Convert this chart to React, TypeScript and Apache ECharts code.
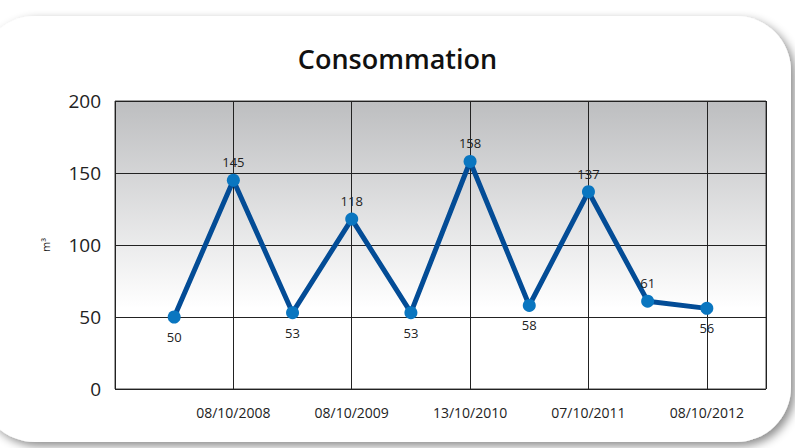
import React, { useEffect, useRef } from "react";
import * as echarts from "echarts";

const title = "Consommation";
const unit = "m³";
const xPositions = [1, 2, 3, 4, 5, 6, 7, 8, 9, 10];
const values = [50, 145, 53, 118, 53, 158, 58, 137, 61, 56];
const labelSide = ["bottom", "top", "bottom", "top", "bottom", "top", "bottom", "top", "top", "bottom"];
const xTickValues = [2, 4, 6, 8, 10];
const xTickLabels = ["08/10/2008", "08/10/2009", "13/10/2010", "07/10/2011", "08/10/2012"];
const yTicks = [0, 50, 100, 150, 200];

export default function App() {
  const ref = useRef<HTMLDivElement>(null);
  useEffect(() => {
    if (!ref.current) return;
    const chart = echarts.init(ref.current, null, { renderer: "svg" });
    const font = "'Open Sans', 'Noto Sans', sans-serif";
    chart.setOption({
      animation: false,
      backgroundColor: "#ffffff",
      graphic: [
        {
          type: "rect",
          z: -10,
          shape: { x: -20, y: 16, width: 811, height: 426, r: 55 },
          style: {
            fill: "#ffffff",
            shadowBlur: 10,
            shadowColor: "rgba(0,0,0,0.45)",
            shadowOffsetX: 4,
            shadowOffsetY: 4,
          },
          silent: true,
        },
        {
          type: "text",
          left: "center",
          top: 45,
          style: {
            text: title,
            font: `600 27px ${font}`,
            fill: "#111",
          },
        },
      ],
      grid: {
        left: 115,
        right: 29,
        top: 101,
        bottom: 59,
        show: true,
        borderColor: "#444",
        borderWidth: 1,
        backgroundColor: new echarts.graphic.LinearGradient(0, 0, 0, 1, [
          { offset: 0, color: "#bdbec0" },
          { offset: 0.72, color: "#ffffff" },
          { offset: 1, color: "#ffffff" },
        ]),
      },
      xAxis: {
        type: "value",
        min: 0,
        max: 11,
        interval: 2,
        axisLine: { show: false },
        axisTick: { show: false },
        splitLine: { show: true, lineStyle: { color: "#222", width: 1 } },
        axisLabel: {
          margin: 16,
          fontSize: 14,
          fontFamily: font,
          color: "#222",
          formatter: (v: number) => {
            const i = xTickValues.indexOf(v);
            return i >= 0 ? xTickLabels[i] : "";
          },
          showMaxLabel: false,
          showMinLabel: false,
        },
      },
      yAxis: {
        type: "value",
        min: yTicks[0],
        max: yTicks[yTicks.length - 1],
        interval: 50,
        name: unit,
        nameLocation: "middle",
        nameRotate: 90,
        nameGap: 64,
        nameTextStyle: { fontSize: 11, fontFamily: font, color: "#222" },
        axisLine: { show: false },
        axisTick: { show: false },
        splitLine: { show: true, lineStyle: { color: "#222", width: 1 } },
        axisLabel: { margin: 14, fontSize: 19, fontFamily: font, color: "#222" },
      },
      series: [
        {
          type: "line",
          data: values.map((v, i) => ({
            value: [xPositions[i], v],
            label: {
              position: labelSide[i],
              distance: labelSide[i] === "top" ? 5 : 7,
            },
          })),
          symbol: "circle",
          symbolSize: 13,
          lineStyle: { color: "#034c96", width: 5 },
          itemStyle: { color: "#0a76c0" },
          label: {
            show: true,
            fontSize: 13,
            fontFamily: font,
            color: "#222",
          },
          z: 5,
        },
      ],
    });
    return () => chart.dispose();
  }, []);
  return (
    <div
      ref={ref}
      style={{ position: "fixed", left: 0, top: 0, width: 795, height: 448 }}
    />
  );
}
